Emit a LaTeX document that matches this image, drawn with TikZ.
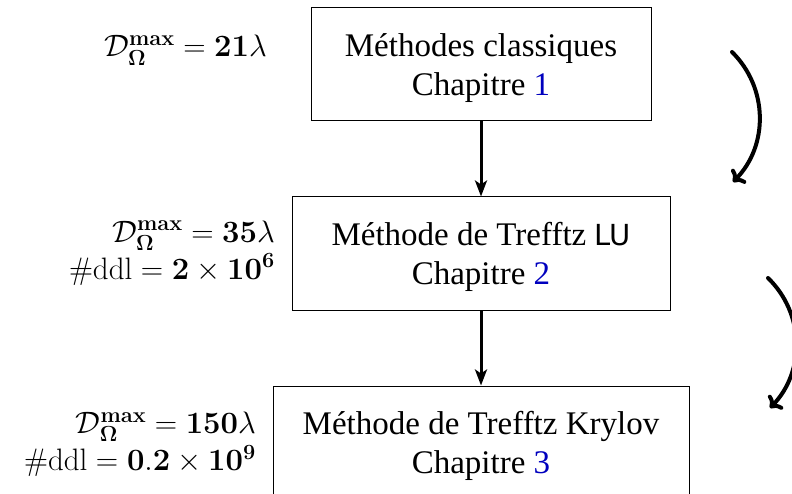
\RequirePackage{fix-cm}
\documentclass[tikz,border=0pt]{standalone}
\usepackage{amsmath,amssymb}
\usepackage[no-math]{fontspec}
\setmainfont{Liberation Serif}
\newfontfamily\lufont{DejaVu Sans}
\usetikzlibrary{arrows.meta}
\definecolor{refblue}{RGB}{0,0,190}
\newcommand{\topstrut}{\rule{0pt}{31pt}}
\begin{document}
\begin{tikzpicture}[x=1pt,y=-1pt,
  box/.style={draw, line width=1pt, minimum height=113pt, align=center, inner sep=0pt,
     font=\fontsize{33}{39}\selectfont},
  lbl/.style={anchor=east, align=right, inner sep=0pt, font=\fontsize{31}{37}\selectfont},
  vline/.style={line width=3pt, -{Stealth[length=16pt,width=12pt,inset=4pt]}},
  carrow/.style={line width=4pt, line cap=round, -{To[length=10pt,width=20pt,line width=4pt]}}
]
\useasboundingbox (0,0) rectangle (792,494);
\node[box, minimum width=340pt] (b1) at (481,64.5) {\topstrut Méthodes classiques\\Chapitre \textcolor{refblue}{1}};
\node[box, minimum width=378pt] (b2) at (481,253.5) {\topstrut Méthode de Trefftz {\lufont\fontsize{29}{39}\selectfont LU}\\Chapitre \textcolor{refblue}{2}};
\node[box, minimum width=416pt] (b3) at (481,442.5) {\topstrut Méthode de Trefftz Krylov\\Chapitre \textcolor{refblue}{3}};
\draw[vline] (b1.south) -- (b2.north);
\draw[vline] (b2.south) -- (b3.north);
\node[lbl] (l1) at (267,50) {$\mathcal{D}_{\boldsymbol{\Omega}}^{\mathbf{max}}=\mathbf{21}\lambda$};
\node[lbl] (l2) at (275,253) {$\mathcal{D}_{\boldsymbol{\Omega}}^{\mathbf{max}}=\mathbf{35}\lambda$\\$\#\mathrm{ddl}=\mathbf{2}\times\mathbf{10^6}$};
\node[lbl] (l3) at (256,444) {$\mathcal{D}_{\boldsymbol{\Omega}}^{\mathbf{max}}=\mathbf{150}\lambda$\\$\#\mathrm{ddl}=\mathbf{0.2}\times\mathbf{10^9}$};
\coordinate (c1a) at (732,52);
\coordinate (c1b) at (733,182);
\coordinate (c2a) at (768,278);
\coordinate (c2b) at (770,408);
\draw[carrow] (c1a) to[bend left=45] (c1b);
\draw[carrow] (c2a) to[bend left=45] (c2b);
\end{tikzpicture}
\end{document}
